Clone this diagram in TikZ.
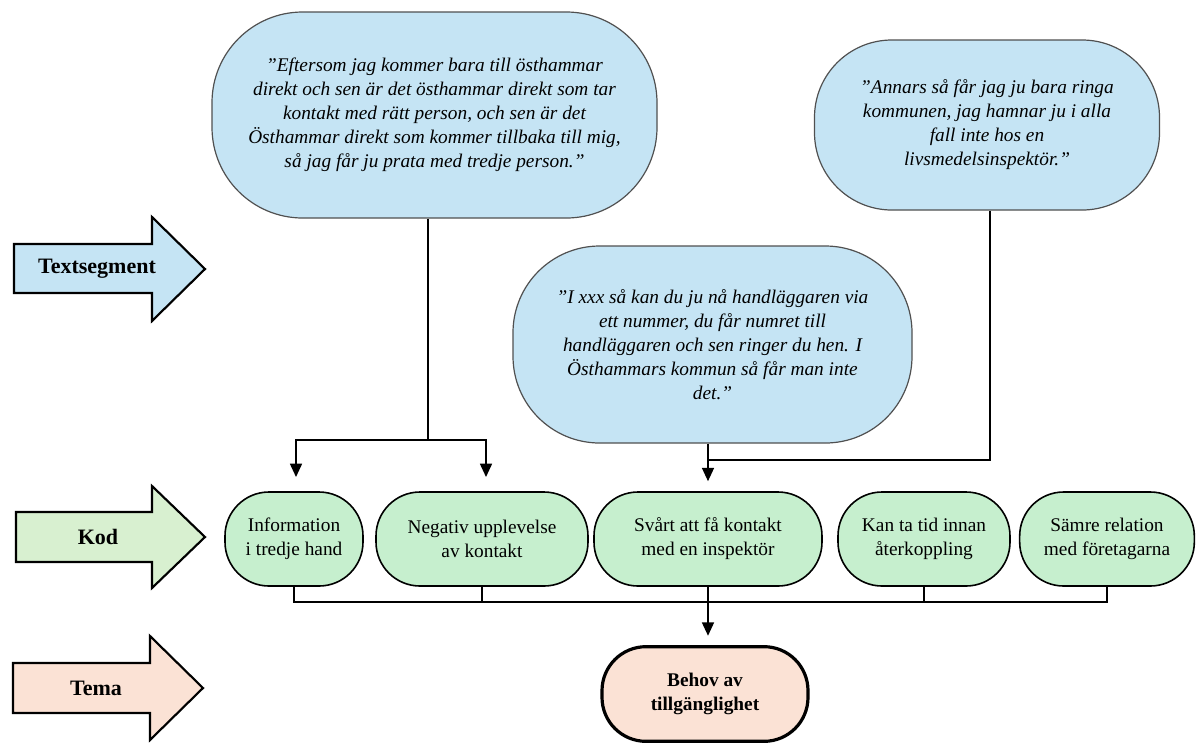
\documentclass[tikz,border=0pt]{standalone}
\usepackage{fontspec}
\setmainfont{Liberation Serif}
\usetikzlibrary{arrows.meta}

\definecolor{quoteblue}{RGB}{197,228,244}
\definecolor{kodgreen}{RGB}{198,239,206}
\definecolor{kodarrow}{RGB}{216,240,208}
\definecolor{temarose}{RGB}{251,226,213}
\definecolor{edgegray}{RGB}{80,80,80}

\tikzset{
  quote/.style={draw=edgegray,line width=0.9pt,fill=quoteblue,
    align=center,font=\fontsize{14.5}{18}\selectfont\itshape},
  kod/.style={draw,line width=1.2pt,fill=kodgreen,rounded corners=33pt,
    align=center,font=\fontsize{14.5}{18}\selectfont,minimum height=70.5pt},
  tema/.style={draw,line width=2.4pt,fill=temarose,rounded corners=33pt,
    align=center,font=\fontsize{14.5}{18}\selectfont\bfseries},
  tag/.style={font=\fontsize{16.5}{18}\selectfont\bfseries},
  bigarrow/.style={draw,line width=1.6pt,line join=miter},
  link/.style={line width=1.2pt},
  into/.style={line width=1.2pt,-{Triangle[length=10pt,width=9pt]}}
}

\begin{document}
\begin{tikzpicture}[x=0.75pt,y=-0.75pt]
    \useasboundingbox (0,0) rectangle (1196,744);
    %% Left arrows
    \draw[bigarrow,fill=quoteblue] (14,244) -- (152,244) -- (152,217) -- (205,269)
        -- (152,321) -- (152,293) -- (14,293) -- cycle;
    \node[tag] (textsegment) at (97,269) {Textsegment};
    \draw[bigarrow,fill=kodarrow] (16,512) -- (152,512) -- (152,486) -- (205,537)
        -- (152,588) -- (152,562) -- (16,562) -- cycle;
    \node[tag] (kodtag) at (98,537) {Kod};
    \draw[bigarrow,fill=temarose] (13,663) -- (150,663) -- (150,636) -- (203,688)
        -- (150,740) -- (150,713) -- (13,713) -- cycle;
    \node[tag] (tematag) at (96,688) {Tema};
    %% Text segments
    \node[quote,rounded corners=68pt,minimum width=333.75pt,minimum height=154.5pt] (q1) at (434.5,115)
        {''Eftersom jag kommer bara till östhammar\\
         direkt och sen är det östhammar direkt som tar\\
         kontakt med rätt person, och sen är det\\
         Östhammar direkt som kommer tillbaka till mig,\\
         så jag får ju prata med tredje person.''};
    \node[quote,rounded corners=58pt,minimum width=258.75pt,minimum height=127.5pt] (q2) at (987,125)
        {''Annars så får jag ju bara ringa\\
         kommunen, jag hamnar ju i alla\\
         fall inte hos en\\
         livsmedelsinspektör.''};
    \node[quote,rounded corners=65pt,minimum width=299.25pt,minimum height=147.75pt] (q3) at (712.5,344.5)
        {''I xxx så kan du ju nå handläggaren via\\
         ett nummer, du får numret till\\
         handläggaren och sen ringer du hen. I\\
         Östhammars kommun så får man inte\\
         det.''};
    %% Codes
    \node[kod,minimum width=103.5pt] (k1) at (294,539) {Information\\i tredje hand};
    \node[kod,minimum width=159pt] (k2) at (482,539) {Negativ upplevelse\\av kontakt};
    \node[kod,minimum width=171pt] (k3) at (708,539) {Svårt att få kontakt\\med en inspektör};
    \node[kod,minimum width=129pt] (k4) at (924,539) {Kan ta tid innan\\återkoppling};
    \node[kod,minimum width=131pt] (k5) at (1107,539) {Sämre relation\\med företagarna};
    %% Theme
    \node[tema,minimum width=154.5pt,minimum height=71pt] (tema) at (705,694) {Behov av\\tillgänglighet};
    %% Connectors
    \coordinate (q1fork) at (428,440);
    \coordinate (q2join) at (990,460);
    \coordinate (bus) at (0,602);
    \draw[link] (q1.south -| q1fork) -- (q1fork);
    \draw[into] (q1fork) -| (296,477);
    \draw[into] (q1fork) -| (486,477);
    \draw[link] (q2.south -| q2join) -- (q2join) -- (q2join -| k3.north);
    \draw[into] (q3.south -| k3.north) -- ([yshift=7.5pt]k3.north);
    \draw[link] (k1.south) |- (k5.south |- bus) -- (k5.south);
    \draw[link] (k2.south) -- (k2.south |- bus);
    \draw[link] (k4.south) -- (k4.south |- bus);
    \draw[into] (k3.south) -- ([yshift=7pt]k3.south |- tema.north);
\end{tikzpicture}
\end{document}
